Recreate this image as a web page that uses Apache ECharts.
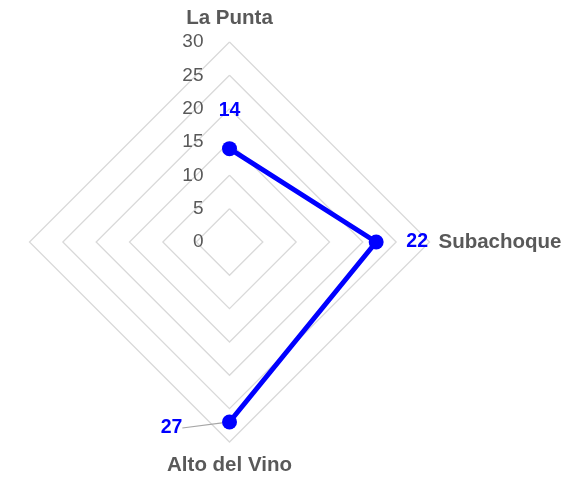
<!DOCTYPE html>
<html>
<head>
<meta charset="utf-8">
<script src="https://cdn.jsdelivr.net/npm/echarts@6/dist/echarts.min.js"></script>
<style>
  html, body { margin: 0; padding: 0; background: #fff; }
  #chart { width: 583px; height: 478px; }
</style>
</head>
<body>
<div id="chart"></div>
<script>
// datos
var categorias = ['La Punta', 'Subachoque', 'Alto del Vino', ''];
var valores = [14, 22, 27, null];
var maximo = 30;
var paso = 5;

// el radar va en sentido antihorario, asi que se reordena solo para la rejilla
var indicadores = [categorias[0], categorias[3], categorias[2], categorias[1]].map(function (n) {
  return { name: n, min: 0, max: maximo };
});

// desplazamiento de cada etiqueta respecto a su punto
var desplaz = [[0, -38], [41, 0], [-58, 6]];

var centro = [229.5, 242];
var radio = 200;
var gris = '#595959';

var chart = echarts.init(document.getElementById('chart'));
chart.setOption({
  animation: false,
  textStyle: { fontFamily: 'Liberation Sans' },
  radar: {
    center: centro,
    radius: radio,
    startAngle: 90,
    shape: 'polygon',
    splitNumber: maximo / paso,
    indicator: indicadores,
    nameGap: 9,
    axisName: {
      color: gris,
      fontWeight: 'bold',
      fontSize: 20.5,
      formatter: function (n) {
        return n === categorias[1] ? n : '{v|' + n + '}';
      },
      rich: {
        v: { color: gris, fontWeight: 'bold', fontSize: 20.5, padding: [4, 0] }
      }
    },
    axisLine: { show: false },
    axisTick: { show: false },
    axisLabel: { show: false },
    splitArea: { show: false },
    splitLine: { lineStyle: { color: '#d9d9d9', width: 1.3 } }
  },
  polar: { center: centro, radius: radio },
  angleAxis: {
    type: 'category',
    data: categorias,
    startAngle: 90,
    clockwise: true,
    boundaryGap: false,
    axisLine: { show: false },
    axisTick: { show: false },
    axisLabel: { show: false },
    splitLine: { show: false }
  },
  radiusAxis: {
    min: 0,
    max: maximo,
    interval: paso,
    axisLine: { show: false },
    axisTick: { show: false },
    splitLine: { show: false },
    axisLabel: { color: gris, fontSize: 19, margin: 26 }
  },
  series: [{
    type: 'line',
    coordinateSystem: 'polar',
    data: valores.map(function (v, i) {
      return i === 2 ? { value: v, labelLine: { show: true } } : v;
    }),
    connectNulls: false,
    symbol: 'circle',
    symbolSize: 15,
    lineStyle: { color: '#0000ff', width: 5 },
    itemStyle: { color: '#0000ff' },
    label: {
      show: true,
      position: 'inside',
      color: '#0000ff',
      fontWeight: 'bold',
      fontSize: 19.5
    },
    labelLine: { show: false, lineStyle: { color: '#a6a6a6', width: 1.2 } },
    labelLayout: function (p) {
      var d = desplaz[p.dataIndex] || [0, 0];
      return { dx: d[0], dy: d[1] };
    }
  }]
});
</script>
</body>
</html>
